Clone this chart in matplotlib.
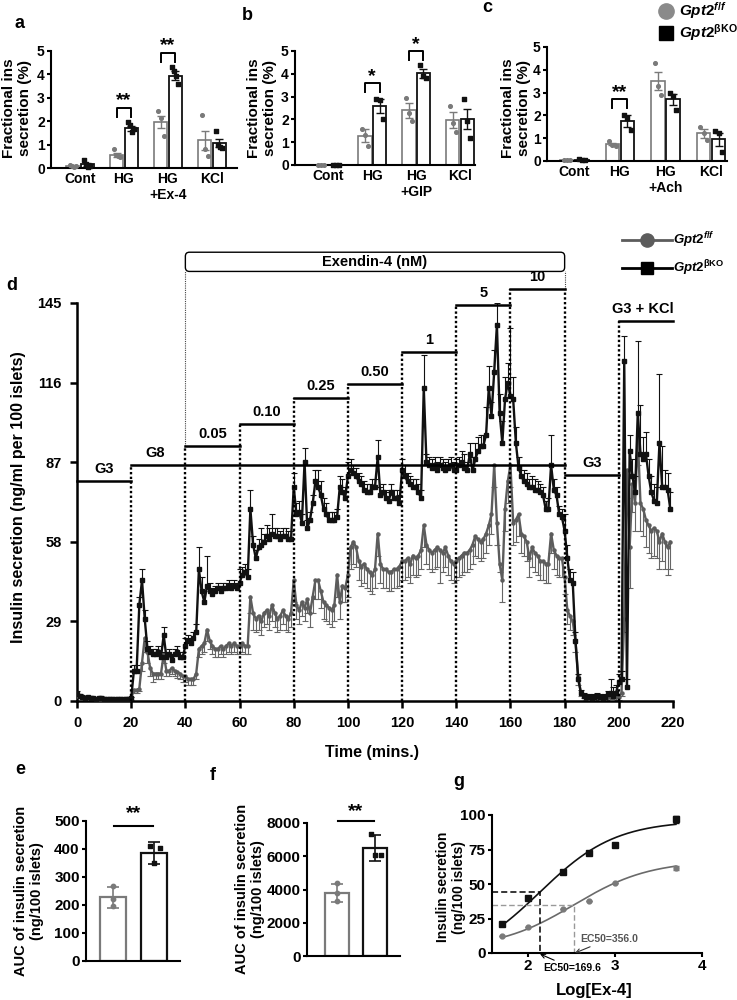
import numpy as np
import matplotlib
matplotlib.use('Agg')
import matplotlib.pyplot as plt
from matplotlib.patches import FancyBboxPatch

plt.rcParams['font.family'] = ['Liberation Sans', 'DejaVu Sans']
plt.rcParams['font.weight'] = 'bold'
plt.rcParams['axes.labelweight'] = 'bold'
plt.rcParams['mathtext.fontset'] = 'custom'
plt.rcParams['mathtext.it'] = 'Liberation Sans:italic:bold'
plt.rcParams['mathtext.rm'] = 'Liberation Sans:bold'
plt.rcParams['mathtext.bf'] = 'Liberation Sans:bold'

WT = '#7a7a7a'
KO = '#111111'
WT_LBL = r'$\mathit{Gpt2}^{\mathit{f/f}}$'
KO_LBL = r'$\mathit{Gpt2}^{\mathrm{βKO}}$'

# ---- a-c: fractional insulin secretion ----
a_groups = ['Cont', 'HG', 'HG\n+Ex-4', 'KCl']
a_wt_mean = [0.08, 0.57, 1.97, 1.18]
a_wt_sem = [0.03, 0.08, 0.27, 0.40]
a_ko_mean = [0.15, 1.70, 3.95, 1.08]
a_ko_sem = [0.08, 0.10, 0.20, 0.18]
a_wt_pts = [[0.12, 0.08, 0.05, 0.10], [0.82, 0.55, 0.50, 0.45], [2.45, 2.15, 1.35], [2.25, 0.80, 0.50]]
a_ko_pts = [[0.35, 0.15, 0.05, 0.10], [1.95, 1.85, 1.55, 1.65], [4.30, 4.15, 3.95, 3.60], [1.60, 1.00, 0.90, 0.85]]
a_sig = [(1, 2.56, '**'), (2, 4.93, '**')]

b_groups = ['Cont', 'HG', 'HG\n+GIP', 'KCl']
b_wt_mean = [0.02, 1.28, 2.40, 1.97]
b_wt_sem = [0.01, 0.28, 0.32, 0.35]
b_ko_mean = [0.02, 2.58, 4.03, 2.02]
b_ko_sem = [0.01, 0.32, 0.20, 0.45]
b_wt_pts = [[0.02, 0.02, 0.02], [1.60, 1.30, 0.85], [2.95, 2.30, 1.95], [2.60, 1.85, 1.45]]
b_ko_pts = [[0.02, 0.02, 0.02], [2.90, 2.85, 2.00], [4.40, 3.90, 3.80], [2.90, 1.95, 1.20]]
b_sig = [(1, 3.58, '*'), (2, 5.0, '*')]

c_groups = ['Cont', 'HG', 'HG\n+Ach', 'KCl']
c_wt_mean = [0.05, 0.73, 3.50, 1.22]
c_wt_sem = [0.01, 0.05, 0.40, 0.20]
c_ko_mean = [0.06, 1.75, 2.70, 0.95]
c_ko_sem = [0.01, 0.25, 0.25, 0.30]
c_wt_pts = [[0.06, 0.05, 0.04], [0.88, 0.68, 0.64], [4.30, 3.30, 2.90], [1.50, 1.25, 0.92]]
c_ko_pts = [[0.07, 0.06, 0.05], [2.00, 1.90, 1.35], [3.00, 2.85, 2.25], [1.30, 1.25, 0.40]]
c_sig = [(1, 2.70, '**')]

# ---- d: perifusion, one point per minute ----
t_min = np.arange(220)
ko_mean = np.array([
    2.5, 1.8, 1.4, 1.2, 1.3, 1.0, 1.1, 0.9, 1.0, 1.2, 0.8, 0.9, 0.7, 0.8, 0.6, 0.7, 0.6, 0.7, 0.8, 0.9,
    1.0, 11, 11, 35, 44, 30, 19, 18, 17, 17, 18, 16, 24, 16, 17, 15, 17, 18, 16, 16,
    20, 22, 21, 23, 25, 48, 40, 36, 42, 40, 39, 40, 41, 40, 41, 41, 42, 41, 42, 41,
    43, 46, 47, 45, 70, 57, 52, 56, 57, 58, 60, 59, 61, 60, 60, 59, 60, 60, 59, 59,
    78, 68, 69, 65, 87, 63, 66, 72, 80, 78, 75, 70, 68, 66, 66, 66, 67, 78, 76, 74,
    82, 84, 83, 82, 80, 79, 77, 76, 76, 78, 78, 89, 75, 76, 74, 73, 76, 74, 74, 72,
    84, 82, 80, 79, 78, 78, 76, 74, 114, 87, 86, 85, 86, 84, 86, 85, 84, 85, 86, 84,
    84, 86, 87, 85, 84, 90, 84, 88, 91, 93, 93, 97, 114, 104, 120, 137, 105, 94, 110, 116,
    111, 110, 94, 85, 82, 80, 79, 78, 78, 77, 77, 76, 75, 70, 70, 86, 77, 75, 68, 67,
    62, 52, 44, 43, 22, 8, 3, 2, 1.5, 1.5, 1.2, 1.5, 2, 1.5, 1.2, 1.5, 2.5, 3, 2, 3,
    7, 8, 124, 5, 91, 82, 76, 105, 90, 88, 90, 82, 76, 73, 72, 94, 78, 78, 77, 70])
ko_err = np.array([
    1.0, 0.8, 0.6, 0.5, 0.5, 0.5, 0.5, 0.4, 0.4, 0.5, 0.4, 0.4, 0.3, 0.4, 0.3, 0.3, 0.3, 0.3, 0.4, 0.4,
    0.5, 2, 2, 3, 4, 3, 3, 2, 2, 2, 2, 2, 3, 2, 2, 2, 2, 2, 2, 2,
    3, 2, 2, 2, 3, 8, 5, 4, 11, 3, 2, 2, 2, 2, 2, 2, 2, 2, 2, 2,
    5, 3, 3, 3, 7, 3, 3, 3, 6, 3, 4, 4, 7, 3, 3, 3, 3, 3, 3, 3,
    5, 4, 4, 3, 5, 3, 3, 3, 4, 6, 5, 4, 4, 3, 3, 3, 3, 4, 5, 4,
    5, 4, 3, 3, 3, 3, 3, 3, 3, 3, 3, 6, 3, 3, 3, 3, 3, 3, 3, 3,
    4, 4, 3, 3, 3, 3, 3, 3, 12, 3, 3, 3, 3, 3, 3, 3, 3, 3, 3, 3,
    4, 3, 4, 5, 3, 4, 5, 6, 5, 4, 4, 10, 8, 5, 8, 8, 7, 8, 8, 7,
    25, 8, 6, 4, 4, 4, 4, 3, 4, 4, 3, 3, 3, 3, 4, 11, 4, 3, 3, 3,
    6, 5, 4, 4, 3, 2, 1, 1, 1, 1, 1, 1, 1, 1, 1, 1, 1, 5, 3, 3,
    3, 3, 9, 3, 6, 6, 6, 26, 18, 8, 8, 6, 6, 6, 6, 25, 15, 6, 6, 6])
wt_mean = np.array([
    2.0, 1.8, 1.5, 1.3, 1.2, 1.0, 1.0, 0.9, 0.8, 0.8, 0.7, 0.7, 0.6, 0.6, 0.5, 0.5, 0.5, 0.6, 0.6, 0.7,
    1.0, 4, 4, 4.5, 14, 23, 18, 12, 10, 10, 10, 10, 17, 11, 11, 12, 11, 10.5, 10, 9,
    9, 8, 8, 8, 10, 19, 20, 21, 26, 22, 20, 19, 19, 20, 19, 20, 21, 20, 21, 20,
    20, 21, 20, 20, 38, 32, 30, 31, 29, 32, 33, 31, 35, 32, 30, 31, 33, 31, 30, 32,
    44, 35, 33, 36, 34, 37, 32, 38, 44, 44, 40, 36, 35, 34, 33, 35, 46, 36, 42, 41,
    46, 56, 58, 56, 51, 49, 50, 48, 47, 46, 48, 61, 50, 48, 48, 47, 47, 48, 48, 49,
    51, 51, 52, 50, 53, 52, 53, 55, 64, 57, 55, 54, 55, 56, 55, 54, 56, 53, 51, 50,
    51, 52, 53, 54, 54, 55, 57, 60, 59, 58, 59, 61, 64, 68, 86, 65, 50, 44, 70, 80,
    86, 65, 66, 68, 61, 60, 58, 52, 56, 54, 53, 51, 51, 50, 50, 61, 55, 53, 52, 52,
    45, 33, 31, 29, 22, 9, 3, 2, 1.5, 1.2, 1.0, 1.2, 1.5, 1.2, 1.0, 1.2, 1.5, 1.2, 1.0, 1.5,
    1.5, 3, 30, 84, 56, 79, 72, 96, 72, 70, 66, 64, 62, 63, 62, 58, 61, 58, 56, 58])
wt_err = np.array([
    0.5, 0.5, 0.5, 0.5, 0.5, 0.5, 0.5, 0.5, 0.5, 0.5, 0.5, 0.5, 0.5, 0.5, 0.5, 0.5, 0.5, 0.5, 0.5, 0.5,
    0.5, 1, 1, 1, 3, 5, 4, 3, 3, 2, 2, 2, 3, 2, 2, 2, 2, 2, 2, 2,
    2, 2, 2, 2, 2, 3, 3, 3, 4, 3, 3, 3, 3, 3, 3, 3, 3, 3, 3, 3,
    3, 3, 3, 3, 6, 6, 5, 5, 5, 5, 5, 5, 6, 5, 5, 5, 5, 5, 5, 5,
    8, 5, 5, 5, 5, 5, 5, 6, 7, 7, 6, 6, 6, 6, 6, 6, 8, 6, 6, 5,
    8, 8, 8, 7, 7, 7, 7, 7, 7, 7, 7, 8, 7, 7, 7, 7, 7, 7, 7, 7,
    7, 7, 7, 7, 7, 7, 7, 7, 8, 7, 7, 7, 7, 7, 12, 7, 7, 7, 7, 7,
    7, 7, 7, 7, 7, 7, 7, 7, 7, 7, 7, 7, 7, 7, 8, 8, 3, 8, 8, 8,
    8, 8, 8, 8, 7, 7, 7, 7, 7, 7, 7, 7, 7, 7, 7, 7, 7, 7, 7, 7,
    6, 5, 5, 5, 4, 3, 1, 1, 1, 1, 1, 1, 1, 1, 1, 1, 1, 1, 1, 1,
    1, 1, 5, 10, 15, 10, 10, 10, 10, 10, 10, 10, 10, 10, 10, 10, 10, 10, 10, 10])

# treatment periods: start, end, level of the bar, label
step_start = [0, 20, 40, 60, 80, 100, 120, 140, 160, 180, 200]
step_end = [20, 180, 60, 80, 100, 120, 140, 160, 180, 200, 220]
step_level = [80, 86, 92.8, 100.8, 110.4, 115.4, 127.3, 144.2, 150.2, 82.5, 138.3]
step_label = ['G3', 'G8', '0.05', '0.10', '0.25', '0.50', '1', '5', '10', 'G3', 'G3 + KCl']
step_label_x = [10, 29, 50, 70, 90, 110, 130, 150, 170, 190, 209]

# ---- e, f: AUC ----
e_mean = [228, 385]
e_sd = [37, 40]
e_wt_pts = [268, 220, 198]
e_ko_pts = [412, 405, 350]
f_mean = [3800, 6500]
f_sd = [560, 800]
f_wt_pts = [4380, 3800, 3280]
f_ko_pts = [7350, 6080, 6070]

# ---- g: dose response ----
g_logx = [1.7, 2.0, 2.4, 2.7, 3.0, 3.7]
g_ko = [21, 40, 59, 72.5, 78.5, 97]
g_wt = [12, 18.5, 32, 37.5, 51, 61.5]
g_ko_err = [0, 0, 0, 0, 0, 2.5]
g_wt_err = [0, 0, 0, 0, 0, 1.5]
ko_fit = (-8, 96, 2.135, 1.0)   # bottom, top, logEC50 (axis units), hill
wt_fit = (3, 67, 2.53, 1.0)


fig = plt.figure(figsize=(7.37, 10), dpi=100)
W, H = 737.0, 1000.0


def rect(l, t, r, b):
    return [l / W, 1 - b / H, (r - l) / W, (b - t) / H]


def clean(ax, lw=1.5):
    for s in ['top', 'right']:
        ax.spines[s].set_visible(False)
    for s in ['left', 'bottom']:
        ax.spines[s].set_linewidth(lw)
    ax.tick_params(width=lw, length=3, pad=1.5, labelsize=10)


def bar_panel(ax, groups, wm, we, km, ke, wp, kp, sig, xlim):
    x = np.arange(len(groups))
    off, w = 0.165, 0.30
    ax.bar(x - off, wm, w, color='white', edgecolor=WT, linewidth=1.2, zorder=2)
    ax.bar(x + off, km, w, color='white', edgecolor=KO, linewidth=1.3, zorder=2)
    ax.errorbar(x - off, wm, yerr=we, fmt='none', ecolor=WT, elinewidth=1, capsize=3, capthick=1, zorder=3)
    ax.errorbar(x + off, km, yerr=ke, fmt='none', ecolor=KO, elinewidth=1, capsize=3, capthick=1, zorder=3)
    for i in range(len(groups)):
        j = np.linspace(-0.07, 0.07, len(wp[i]))
        ax.scatter(x[i] - off + j, wp[i], s=7, color=WT, zorder=4, clip_on=False)
        j = np.linspace(-0.07, 0.07, len(kp[i]))
        ax.scatter(x[i] + off + j, kp[i], s=9, marker='s', color=KO, zorder=4, clip_on=False)
    for i, y, lab in sig:
        ax.plot([i - off, i - off, i + off, i + off], [y - 0.38, y, y, y - 0.38],
                color='black', lw=1.4, clip_on=False)
        ax.text(i, y + 0.3, lab, ha='center', va='center', fontsize=14, clip_on=False)
    ax.set_xticks(x)
    ax.set_xticklabels(groups, fontsize=10.5, va='top')
    ax.set_xlim(*xlim)
    ax.set_ylim(0, 5)
    ax.set_yticks(range(6))
    clean(ax)
    ax.tick_params(axis='x', length=0, pad=3)


ax_a = fig.add_axes(rect(51, 51, 237, 168))
bar_panel(ax_a, a_groups, a_wt_mean, a_wt_sem, a_ko_mean, a_ko_sem, a_wt_pts, a_ko_pts, a_sig, (-0.66, 3.57))
ax_b = fig.add_axes(rect(295, 51, 475, 165))
bar_panel(ax_b, b_groups, b_wt_mean, b_wt_sem, b_ko_mean, b_ko_sem, b_wt_pts, b_ko_pts, b_sig, (-0.76, 3.34))
ax_c = fig.add_axes(rect(547, 47, 727, 161))
bar_panel(ax_c, c_groups, c_wt_mean, c_wt_sem, c_ko_mean, c_ko_sem, c_wt_pts, c_ko_pts, c_sig, (-0.60, 3.35))

# ---- d ----
ax_d = fig.add_axes(rect(77, 303, 673, 701))
wt_lo = wt_mean - wt_err
ax_d.vlines(t_min, wt_lo, wt_mean, color='#666666', lw=0.8, zorder=2)
ax_d.plot(t_min, wt_lo, ls='none', marker='_', ms=5, mew=0.8, color='#666666', zorder=2)
ax_d.plot(t_min, wt_mean, color='#5c5c5c', lw=1.7, marker='o', ms=2.2, zorder=3)
ko_hi = ko_mean + ko_err
ax_d.vlines(t_min, ko_mean, ko_hi, color=KO, lw=0.8, zorder=3)
ax_d.plot(t_min, ko_hi, ls='none', marker='_', ms=5, mew=0.8, color=KO, zorder=3)
ax_d.plot(t_min, ko_mean, color=KO, lw=1.7, marker='s', ms=2.2, zorder=4)

for s0, s1, lev, lab, lx in zip(step_start, step_end, step_level, step_label, step_label_x):
    ax_d.plot([s0, s1], [lev, lev], color='black', lw=1.8, zorder=5, clip_on=False)
    ax_d.text(lx, lev + 1.8, lab, ha='center', va='bottom', fontsize=10.5, clip_on=False)
for xb in sorted(set(step_start[1:])):
    top = max(l for s0, s1, l in zip(step_start, step_end, step_level) if s0 == xb or s1 == xb)
    ax_d.plot([xb, xb], [0, top], color='black', lw=1.7, ls=(0, (1, 1)), zorder=5, clip_on=False)

box = FancyBboxPatch((40, 156.5), 140, 7, boxstyle='round,pad=0,rounding_size=1.5',
                     facecolor='white', edgecolor='black', lw=1.0, clip_on=False, zorder=6)
ax_d.add_patch(box)
ax_d.text(110, 160, 'Exendin-4 (nM)', ha='center', va='center', fontsize=10.5, zorder=7, clip_on=False)
ax_d.plot([40, 40], [92.8, 156.5], color='#444444', lw=0.8, ls=(0, (1, 1)), clip_on=False)
ax_d.plot([180, 180], [150.2, 156.5], color='#444444', lw=0.8, ls=(0, (1, 1)), clip_on=False)

ax_d.set_xlim(0, 220)
ax_d.set_ylim(0, 145)
ax_d.set_xticks(range(0, 221, 20))
ax_d.set_yticks([0, 29, 58, 87, 116, 145])
clean(ax_d, lw=1.8)
ax_d.tick_params(length=5, pad=6, labelsize=10.5)


# ---- e, f ----
def auc_panel(ax, mean, sd, wp, kp, ymax, yticks, sig_y, star_y, xlim):
    x = np.array([0, 1])
    ax.bar(x[0], mean[0], 0.64, color='white', edgecolor=WT, lw=1.6, zorder=2)
    ax.bar(x[1], mean[1], 0.64, color='white', edgecolor=KO, lw=1.6, zorder=2)
    ax.errorbar(x[0], mean[0], yerr=sd[0], fmt='none', ecolor=WT, elinewidth=1.2, capsize=4, capthick=1.2, zorder=3)
    ax.errorbar(x[1], mean[1], yerr=sd[1], fmt='none', ecolor=KO, elinewidth=1.2, capsize=4, capthick=1.2, zorder=3)
    ax.scatter(x[0] + np.array([0.0, 0.0, 0.0]), wp, s=10, color=WT, zorder=4)
    ax.scatter(x[1] + np.array([-0.1, 0.15, 0.0]), kp, s=12, marker='s', color=KO, zorder=4)
    ax.plot([0.02, 0.98], [sig_y, sig_y], color='black', lw=1.5, clip_on=False)
    ax.text(0.5, star_y, '**', ha='center', va='center', fontsize=14, clip_on=False)
    ax.set_xlim(*xlim)
    ax.set_ylim(0, ymax)
    ax.set_yticks(yticks)
    ax.set_xticks([])
    clean(ax)
    ax.tick_params(labelsize=11)


ax_e = fig.add_axes(rect(86, 821, 180, 961))
auc_panel(ax_e, e_mean, e_sd, e_wt_pts, e_ko_pts, 500, range(0, 501, 100), 482, 525, (-0.67, 1.65))
ax_f = fig.add_axes(rect(307, 823, 400, 956))
auc_panel(ax_f, f_mean, f_sd, f_wt_pts, f_ko_pts, 8000, range(0, 8001, 2000), 8140, 8700, (-0.79, 1.66))

# ---- g ----
ax_g = fig.add_axes(rect(492, 815, 702, 953))
xx = np.linspace(1.7, 3.7, 200)
for fit, col in [(ko_fit, KO), (wt_fit, '#6a6a6a')]:
    b0, t0, ec, h = fit
    ax_g.plot(xx, b0 + (t0 - b0) / (1 + 10 ** ((ec - xx) * h)), color=col, lw=1.2)
ax_g.errorbar(g_logx, g_ko, yerr=g_ko_err, fmt='s', color=KO, ms=4, capsize=2)
ax_g.errorbar(g_logx, g_wt, yerr=g_wt_err, fmt='o', color='#7a7a7a', ms=3.5, capsize=2)
ko_half = (ko_fit[0] + ko_fit[1]) / 2
wt_half = (wt_fit[0] + wt_fit[1]) / 2
ax_g.plot([1.586, ko_fit[2], ko_fit[2]], [ko_half, ko_half, 0], color='black', lw=1.1, ls=(0, (4, 2)))
ax_g.plot([1.586, wt_fit[2], wt_fit[2]], [wt_half, wt_half, 0], color='#999999', lw=1.0, ls=(0, (4, 2)))
ax_g.set_xlim(1.586, 4.0)
ax_g.set_ylim(0, 100)
ax_g.set_xticks([2, 3, 4])
ax_g.set_yticks([0, 25, 50, 75, 100])
clean(ax_g)
ax_g.tick_params(labelsize=11)

# ---- overlay for labels, legends and notes (pixel coordinates) ----
ov = fig.add_axes([0, 0, 1, 1])
ov.set_xlim(0, W)
ov.set_ylim(H, 0)
ov.axis('off')
ov.patch.set_alpha(0)

for lab, px, py in [('a', 20, 24), ('b', 247, 15), ('c', 487, 8), ('d', 12, 285),
                    ('e', 20, 770), ('f', 213, 775), ('g', 459, 782)]:
    ov.text(px, py, lab, fontsize=13, ha='center', va='center')

frac = 'Fractional ins\nsecretion (%)'
for px in [17, 262, 516]:
    ov.text(px, 108, frac, rotation=90, ha='center', va='center', fontsize=11, linespacing=1.15)
ov.text(19, 497, 'Insulin secretion (ng/ml per 100 islets)', rotation=90, ha='center', va='center', fontsize=11.5)
ov.text(372, 753, 'Time (mins.)', ha='center', va='center', fontsize=11.5)
auc_lbl = 'AUC of insulin secretion\n(ng/100 islets)'
ov.text(29, 891, auc_lbl, rotation=90, ha='center', va='center', fontsize=10.5, linespacing=1.15)
ov.text(250, 889, auc_lbl, rotation=90, ha='center', va='center', fontsize=10.5, linespacing=1.15)
ov.text(451, 887, 'Insulin secretion\n(ng/100 islets)', rotation=90, ha='center', va='center', fontsize=10, linespacing=1.15)
ov.text(594, 990, 'Log[Ex-4]', ha='center', va='center', fontsize=12)

# legend of a-c
ov.plot(666, 11, 'o', ms=11, color='#8a8a8a')
ov.plot(666, 33, 's', ms=10, color='black')
ov.text(679, 11, WT_LBL, fontsize=11, va='center')
ov.text(679, 33, KO_LBL, fontsize=11, va='center')

# legend of d
ov.plot([622, 672], [240, 240], color='#5c5c5c', lw=2)
ov.plot(647, 240, 'o', ms=9.5, color='#5c5c5c')
ov.plot([622, 672], [268, 268], color='black', lw=2)
ov.plot(647, 268, 's', ms=8.5, color='black')
ov.text(673, 240, WT_LBL, fontsize=9.5, va='center')
ov.text(673, 268, KO_LBL, fontsize=9.5, va='center')

# EC50 notes in g
ov.annotate('EC50=169.6', xy=(540, 954), xytext=(543, 968), fontsize=7.5, va='center', ha='left',
            arrowprops=dict(arrowstyle='->', lw=0.8, color='black', shrinkA=0, shrinkB=0))
ov.annotate('EC50=356.0', xy=(575, 953), xytext=(580, 939), fontsize=7.5, va='center', ha='left', color='#555555',
            arrowprops=dict(arrowstyle='->', lw=0.8, color='#333333', shrinkA=0, shrinkB=0))

fig.savefig('out.png', dpi=100)
